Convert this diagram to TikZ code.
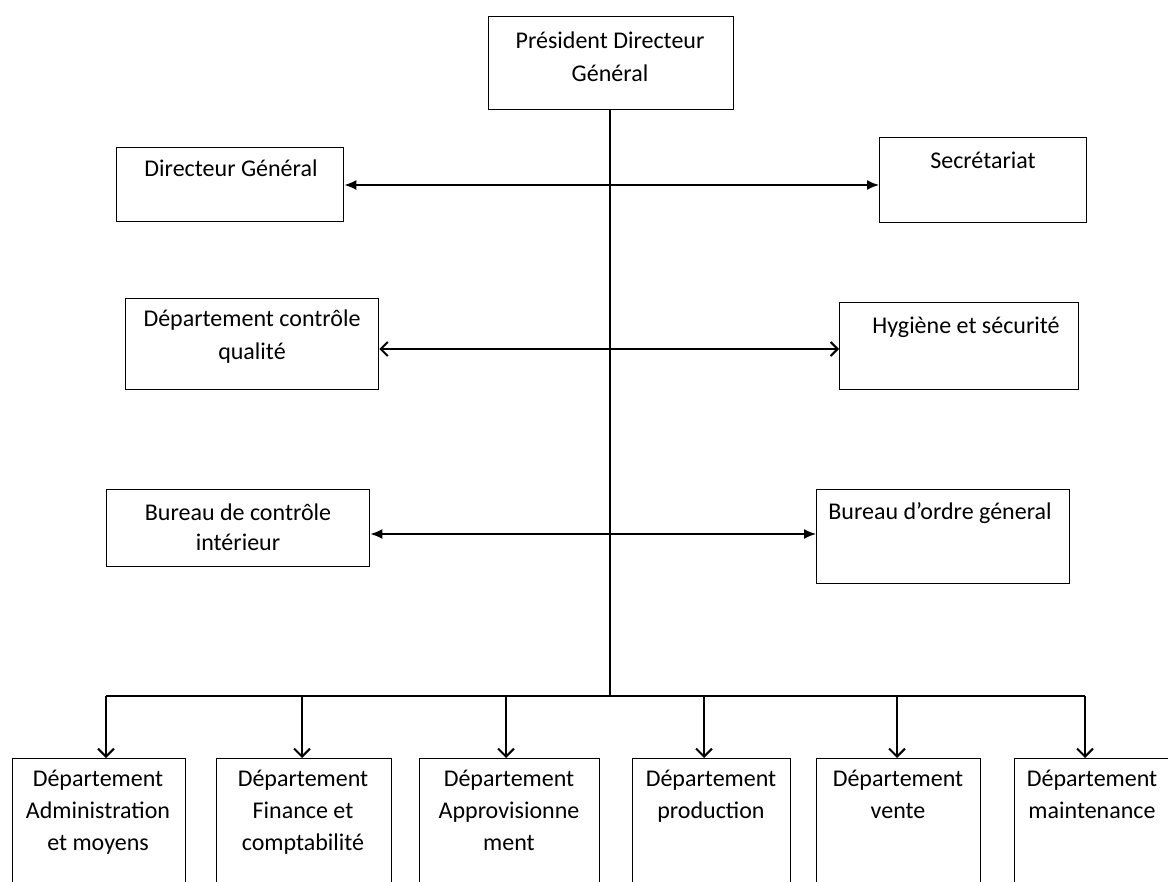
\documentclass[tikz,border=0pt]{standalone}
\usepackage{fontspec}
\setmainfont{Carlito}
\usetikzlibrary{arrows.meta}
\begin{document}
\begin{tikzpicture}[x=1pt,y=-1pt,
  box/.style={draw=black,line width=1.4pt,rectangle,inner sep=0pt,anchor=north west},
  txt/.style={font=\fontsize{24}{32}\selectfont,align=center,anchor=base,inner sep=0pt},
  link/.style={line width=1.6pt},
  fa/.style={link,{Latex[length=12pt,width=10pt]}-{Latex[length=12pt,width=10pt]}},
  oa/.style={link,{Straight Barb[length=7pt,width=14pt,line width=2pt]}-{Straight Barb[length=7pt,width=14pt,line width=2pt]}},
  down/.style={link,-{Straight Barb[length=8pt,width=16pt,line width=2pt]}}]
\useasboundingbox[fill=white] (0,0) rectangle (1168,882);
% top
\node[box,minimum width=245pt,minimum height=93pt] (pdg) at (488,16) {};
\node[txt,font=\fontsize{24}{33}\selectfont] (pdgt) at (610,82) {Président Directeur\\Général};
% level 1
\node[box,minimum width=227pt,minimum height=74pt] (dg) at (116,147) {};
\node[txt] (dgt) at (231,177) {Directeur Général};
\node[box,minimum width=207pt,minimum height=85pt] (sec) at (879,137) {};
\node[txt] (sect) at (983,169) {Secrétariat};
% level 2
\node[box,minimum width=253pt,minimum height=91pt] (cq) at (125,298) {};
\node[txt,font=\fontsize{24}{33}\selectfont] (cqt) at (252,360) {Département contrôle\\qualité};
\node[box,minimum width=239pt,minimum height=87pt] (hyg) at (839,302) {};
\node[txt] (hygt) at (966,334) {Hygiène et sécurité};
% level 3
\node[box,minimum width=263pt,minimum height=77pt] (bci) at (106,489) {};
\node[txt,font=\fontsize{24}{30}\selectfont] (bcit) at (238,550) {Bureau de contrôle\\intérieur};
\node[box,minimum width=253pt,minimum height=94pt] (bog) at (816,489) {};
\node[txt] (bogt) at (940,519) {Bureau d’ordre géneral};
% departments
\node[box,minimum width=173pt,minimum height=140pt] (d1) at (12,758) {};
\node[txt] (d1t) at (98,850) {Département\\Administration\\et moyens};
\node[box,minimum width=175pt,minimum height=140pt] (d2) at (216,758) {};
\node[txt] (d2t) at (303,850) {Département\\Finance et\\comptabilité};
\node[box,minimum width=180pt,minimum height=140pt] (d3) at (419,758) {};
\node[txt] (d3t) at (509,850) {Département\\Approvisionne\\ment};
\node[box,minimum width=158pt,minimum height=140pt] (d4) at (632,758) {};
\node[txt] (d4t) at (711,818) {Département\\production};
\node[box,minimum width=164pt,minimum height=140pt] (d5) at (816,758) {};
\node[txt] (d5t) at (898,818) {Département\\vente};
\node[box,minimum width=155pt,minimum height=140pt] (d6) at (1014,758) {};
\node[txt] (d6t) at (1092,818) {Département\\maintenance};
% stem and bus
\coordinate (top) at (610,109);
\coordinate (hub) at (610,696);
\coordinate (j1) at (106,696);
\coordinate (j2) at (302,696);
\coordinate (j3) at (506,696);
\coordinate (j4) at (704,696);
\coordinate (j5) at (897,696);
\coordinate (j6) at (1085,696);
\draw[link] (top) -- (hub);
\draw[link] (j1) -- (j6);
\foreach \i in {1,...,6} {\draw[down] (j\i) -- (j\i |- d\i.north);}
% horizontal links
\coordinate (y1) at (0,185);
\coordinate (y2) at (0,349);
\coordinate (y3) at (0,534);
\draw[fa] (dg.east |- y1) -- (sec.west |- y1);
\draw[oa] (cq.east |- y2) -- (hyg.west |- y2);
\draw[fa] (bci.east |- y3) -- (bog.west |- y3);
\end{tikzpicture}
\end{document}
